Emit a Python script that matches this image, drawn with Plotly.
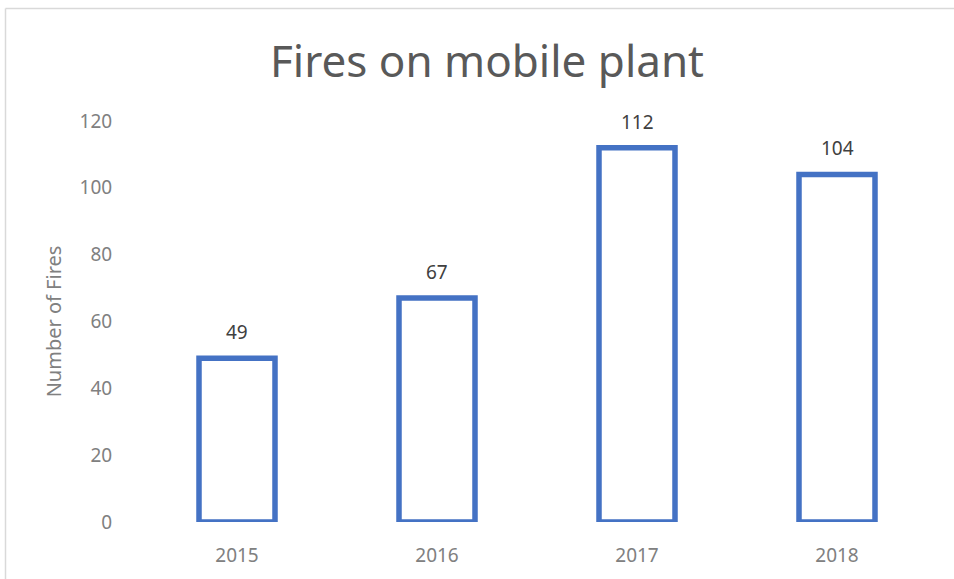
import plotly.graph_objects as go

years = ["2015", "2016", "2017", "2018"]
fires = [49, 67, 112, 104]
y_ticks = [0, 20, 40, 60, 80, 100, 120]

L, R, T, B = 137, 954 - 937, 121, 579 - 522
W, H = 954, 579
pw, ph = W - L - R, H - T - B

def px_x(x):
    return (x - L) / pw

def px_y(y):
    return (H - B - y) / ph

fig = go.Figure()
fig.add_trace(go.Bar(
    x=years, y=fires,
    marker=dict(color="white", line=dict(color="#4472C4", width=5.5)),
    cliponaxis=False, hoverinfo="skip",
))

for i, v in enumerate(fires):
    fig.add_annotation(x=i, y=v, xref="x", yref="y", text=str(v), showarrow=False,
                       yanchor="middle", yshift=26,
                       font=dict(family="Noto Sans", size=19, color="#404040"))

fig.update_layout(
    width=W, height=H,
    margin=dict(l=L, r=R, t=T, b=B),
    paper_bgcolor="white", plot_bgcolor="white",
    bargap=0.62,
    showlegend=False,
    title=dict(text="Fires on mobile plant", x=487 / W, xanchor="center",
               y=1 - 62 / H, yanchor="middle",
               font=dict(family="Noto Sans", size=44, color="#595959")),
    xaxis=dict(type="category", range=[-0.5, 3.5], showgrid=False, showline=False,
               zeroline=False, ticks="outside", ticklen=16,
               tickcolor="rgba(0,0,0,0)",
               tickfont=dict(family="Noto Sans", size=19, color="#808080")),
    yaxis=dict(range=[0, 120], tickvals=y_ticks, showgrid=False, showline=False,
               zeroline=False, ticks="outside", ticklen=20,
               tickcolor="rgba(0,0,0,0)",
               tickfont=dict(family="Noto Sans", size=19, color="#808080"),
               title=dict(text="Number of Fires", standoff=12,
                          font=dict(family="Noto Sans", size=20, color="#808080"))),
    shapes=[
        dict(type="line", xref="paper", yref="paper", x0=px_x(5.5), x1=px_x(954),
             y0=px_y(8.5), y1=px_y(8.5), line=dict(color="#d9d9d9", width=1.5)),
        dict(type="line", xref="paper", yref="paper", x0=px_x(5.5), x1=px_x(5.5),
             y0=px_y(8.5), y1=px_y(579), line=dict(color="#d9d9d9", width=1.5)),
    ],
)

fig.write_html("out.html")
